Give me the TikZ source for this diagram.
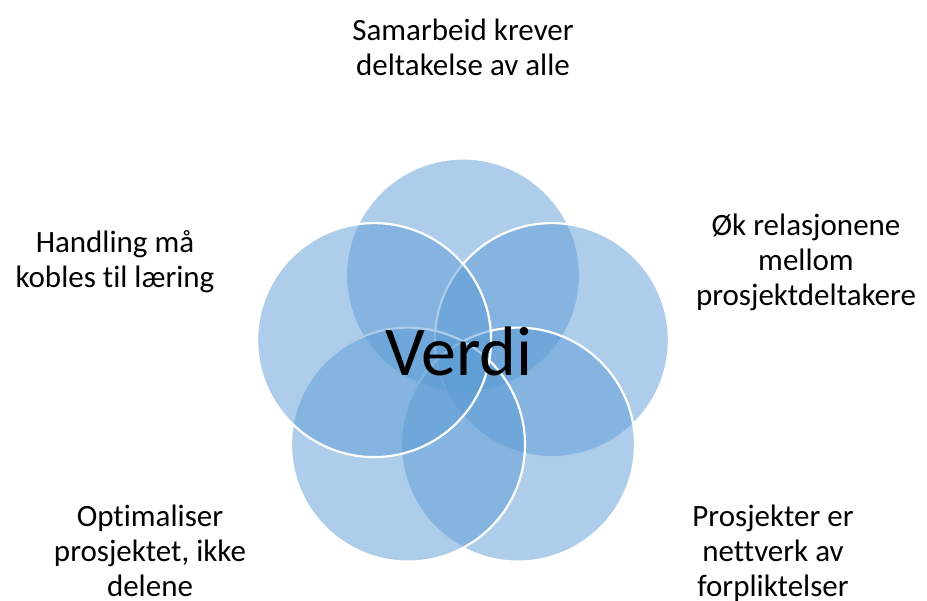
\documentclass[tikz,border=0pt]{standalone}
\usepackage{fontspec}
\setmainfont[Ligatures=NoCommon]{Carlito}
\begin{document}
\begin{tikzpicture}[x=1pt,y=-1pt,
  venn/.style={circle, minimum size=234pt, inner sep=0pt, fill={rgb,255:red,91;green,155;blue,213}, fill opacity=0.5, draw=white, draw opacity=1, line width=2.2pt},
  label/.style={align=center, font=\fontsize{31}{35}\selectfont, text=black, inner sep=0pt},
  centre/.style={font=\fontsize{70}{80}\selectfont, text=black, inner sep=0pt}]
\useasboundingbox (0,0) rectangle (927,601);
\node[venn] (ctop) at (463,275.5) {};
\node[venn] (cright) at (551.9,340.1) {};
\node[venn] (cbr) at (518,444.6) {};
\node[venn] (cbl) at (408,444.6) {};
\node[venn] (cleft) at (374.1,340.1) {};
\node[centre] (verdi) at (459,351) {Verdi};
\node[label] (ttop) at (463,47.5) {Samarbeid krever\\deltakelse av alle};
\node[label] (tright) at (806,262) {Øk relasjonene\\mellom\\prosjektdeltakere};
\node[label] (tbr) at (773,553) {Prosjekter er\\nettverk av\\forpliktelser};
\node[label] (tbl) at (150,551) {Optimaliser\\prosjektet, ikke\\delene};
\node[label] (tleft) at (115,262) {Handling må\\kobles til læring};
\end{tikzpicture}
\end{document}
